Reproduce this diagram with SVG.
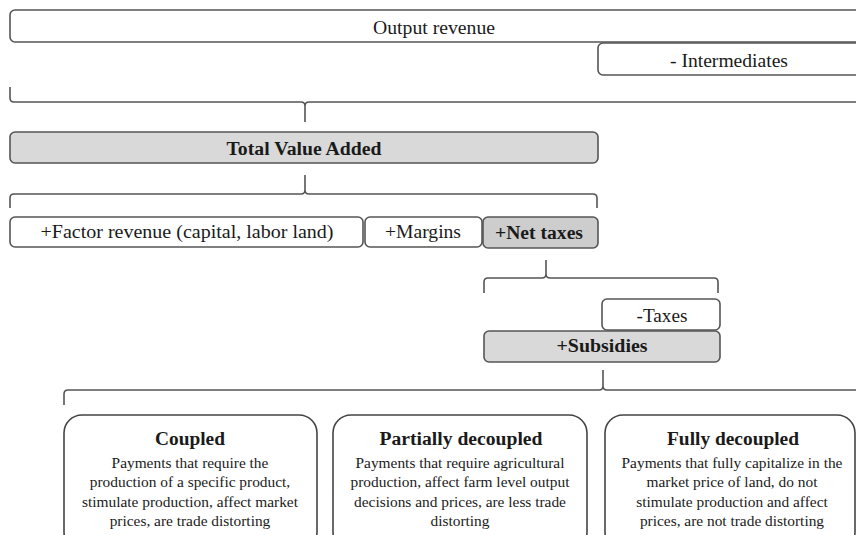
<svg xmlns="http://www.w3.org/2000/svg" width="856" height="535" viewBox="0 0 856 535">
<style>
.box{fill:#ffffff;stroke:#555;stroke-width:1.6}
.gray{fill:#d9d9d9;stroke:#555;stroke-width:1.6}
.dark{fill:#cdcdcd;stroke:#555;stroke-width:1.6}
.big{fill:#ffffff;stroke:#444;stroke-width:1.6}
.brace{fill:none;stroke:#555;stroke-width:1.6}
text{font-family:"Liberation Serif","Times New Roman",serif;fill:#1a1a1a;text-anchor:middle}
.lbl{font-size:18px}
.b{font-weight:bold}
.ttl{font-size:18px;font-weight:bold}
.body{font-size:14px}
</style>
<rect width="856" height="535" fill="#ffffff"/>
<g id="connectors">
<path class="brace" d="M10,87 V98 Q10,102 14,102 H301 Q305,102 305,106 V122 M305,106 Q305,102 309,102 H870"/>
<path class="brace" d="M10,208 V198 Q10,194 14,194 H301 Q305,194 305,190 V175 M305,190 Q305,194 309,194 H593 Q597,194 597,198 V208"/>
<path class="brace" d="M484,293 V282 Q484,278 488,278 H542 Q546,278 546,274 V260 M546,274 Q546,278 550,278 H714 Q718,278 718,282 V293"/>
<path class="brace" d="M64,405 V394 Q64,390 68,390 H599 Q603,390 603,386 V370 M603,386 Q603,390 607,390 H870"/>
</g>
<g id="output-revenue">
<rect class="box" x="10" y="10" width="870" height="32" rx="5"/>
<text class="lbl" x="434" y="34" textLength="122" lengthAdjust="spacingAndGlyphs">Output revenue</text>
</g>
<g id="intermediates">
<rect class="box" x="598" y="43" width="280" height="32" rx="5"/>
<text class="lbl" x="729" y="67" textLength="118" lengthAdjust="spacingAndGlyphs">- Intermediates</text>
</g>
<g id="total-value-added">
<rect class="gray" x="10" y="132" width="588" height="31" rx="5"/>
<text class="lbl b" x="304" y="155" textLength="155" lengthAdjust="spacingAndGlyphs">Total Value Added</text>
</g>
<g id="factor-revenue">
<rect class="box" x="10" y="217" width="353" height="30" rx="5"/>
<text class="lbl" x="187" y="238" textLength="293" lengthAdjust="spacingAndGlyphs">+Factor revenue (capital, labor land)</text>
</g>
<g id="margins">
<rect class="box" x="365" y="217" width="117" height="30" rx="5"/>
<text class="lbl" x="423" y="238" textLength="76" lengthAdjust="spacingAndGlyphs">+Margins</text>
</g>
<g id="net-taxes">
<rect class="dark" x="483" y="217" width="115" height="31" rx="5"/>
<text class="lbl b" x="539" y="239" textLength="88" lengthAdjust="spacingAndGlyphs">+Net taxes</text>
</g>
<g id="taxes">
<rect class="box" x="602" y="299" width="118" height="31" rx="5"/>
<text class="lbl" x="662" y="322" textLength="51" lengthAdjust="spacingAndGlyphs">-Taxes</text>
</g>
<g id="subsidies">
<rect class="gray" x="484" y="331" width="236" height="31" rx="5"/>
<text class="lbl b" x="602" y="352" textLength="91" lengthAdjust="spacingAndGlyphs">+Subsidies</text>
</g>
<g id="coupled">
<rect class="big" x="64" y="415" width="253" height="135" rx="18"/>
<text class="ttl" x="190" y="445" textLength="70" lengthAdjust="spacingAndGlyphs">Coupled</text>
<g transform="matrix(1.1 0 0 1 -19 0)">
<text class="body" x="190" y="468">Payments that require the</text>
<text class="body" x="190" y="487">production of a specific product,</text>
<text class="body" x="190" y="507">stimulate production, affect market</text>
<text class="body" x="190" y="526">prices, are trade distorting</text>
</g>
</g>
<g id="partially-decoupled">
<rect class="big" x="333" y="415" width="254" height="135" rx="18"/>
<text class="ttl" x="461" y="445" textLength="163" lengthAdjust="spacingAndGlyphs">Partially decoupled</text>
<g transform="matrix(1.1 0 0 1 -46 0)">
<text class="body" x="460" y="468">Payments that require agricultural</text>
<text class="body" x="460" y="487">production, affect farm level output</text>
<text class="body" x="460" y="507">decisions and prices, are less trade</text>
<text class="body" x="460" y="526">distorting</text>
</g>
</g>
<g id="fully-decoupled">
<rect class="big" x="605" y="415" width="250" height="135" rx="18"/>
<text class="ttl" x="733" y="445" textLength="132" lengthAdjust="spacingAndGlyphs">Fully decoupled</text>
<g transform="matrix(1.1 0 0 1 -73.2 0)">
<text class="body" x="732" y="468">Payments that fully capitalize  in the</text>
<text class="body" x="732" y="487">market price of land, do not</text>
<text class="body" x="732" y="507">stimulate production and affect</text>
<text class="body" x="732" y="526">prices, are not trade distorting</text>
</g>
</g>
</svg>
